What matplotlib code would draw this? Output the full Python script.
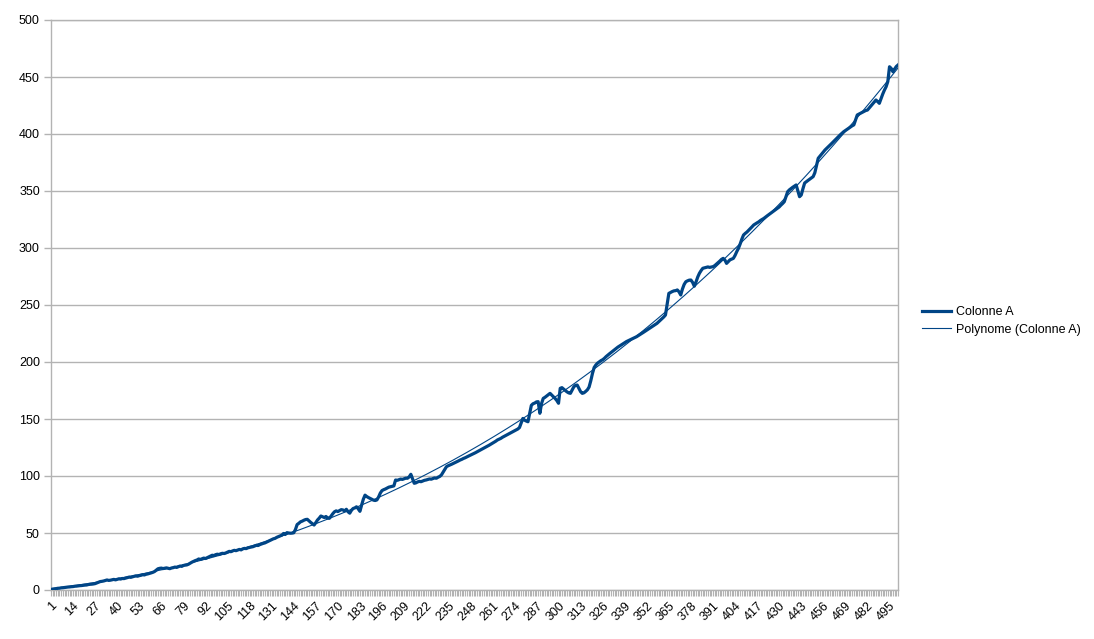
import numpy as np
import matplotlib
matplotlib.use("Agg")
import matplotlib.pyplot as plt
from matplotlib.ticker import FixedLocator, MultipleLocator

plt.rcParams['font.family'] = ['Liberation Sans', 'DejaVu Sans']

# values of "Colonne A" (points 1..500)
colonne_a = [
    0.5, 0.8, 1.0, 1.2, 1.5, 1.6, 1.9, 2.0, 2.2, 2.4,
    2.6, 2.7, 2.9, 3.0, 3.3, 3.4, 3.6, 3.8, 3.9, 4.1,
    4.3, 4.4, 4.8, 5.0, 5.1, 5.3, 5.6, 6.2, 6.8, 7.4,
    7.6, 7.9, 8.3, 8.8, 8.4, 8.6, 9.0, 9.3, 8.9, 9.4,
    9.8, 9.6, 10.1, 10.0, 10.4, 10.9, 11.3, 11.1, 11.6, 12.0,
    12.3, 12.1, 12.6, 12.9, 13.4, 13.2, 13.8, 14.1, 14.5, 15.0,
    15.5, 16.2, 17.4, 18.6, 19.0, 19.2, 18.8, 19.1, 19.4, 19.0,
    18.7, 19.3, 19.6, 20.1, 19.8, 20.4, 21.0, 20.7, 21.5, 21.8,
    22.0, 22.6, 23.5, 24.4, 25.1, 25.8, 26.3, 27.2, 26.8, 27.4,
    28.0, 27.6, 28.3, 29.1, 29.8, 30.5, 30.2, 31.0, 31.4, 31.1,
    31.8, 32.2, 32.0, 32.5, 33.2, 33.9, 33.6, 34.3, 34.8, 34.5,
    35.0, 35.6, 35.2, 36.1, 36.5, 36.3, 37.0, 37.4, 37.7, 38.0,
    38.6, 39.2, 39.0, 39.8, 40.4, 40.9, 41.3, 42.0, 42.8, 43.4,
    44.1, 44.9, 45.3, 46.2, 46.8, 47.5, 48.1, 49.6, 48.7, 50.3,
    50.0, 49.8, 49.9, 50.2, 53.0, 57.4, 58.5, 59.8, 60.4, 61.2,
    61.8, 62.0, 60.6, 59.3, 58.2, 57.0, 59.1, 61.4, 63.0, 64.9,
    64.2, 63.6, 64.5, 63.1, 62.9, 64.8, 66.9, 68.6, 69.4, 68.8,
    69.7, 70.5, 70.2, 69.4, 70.8, 68.6, 67.4, 69.9, 71.5, 72.0,
    73.0, 71.2, 69.0, 74.5, 79.6, 83.2, 82.0, 81.1, 80.4, 79.6,
    78.8, 78.5, 79.0, 81.6, 85.0, 87.2, 88.0, 88.6, 89.4, 90.2,
    90.6, 91.0, 91.3, 96.5, 96.2, 96.8, 97.3, 97.0, 97.6, 98.1,
    98.0, 99.2, 101.5, 97.5, 93.6, 94.0, 94.8, 95.3, 95.0, 95.6,
    96.2, 96.5, 96.9, 97.4, 97.2, 97.8, 98.3, 98.0, 98.9, 99.6,
    100.9, 103.4, 105.8, 108.2, 109.0, 109.6, 110.3, 111.0, 111.8, 112.4,
    113.2, 114.0, 114.6, 115.4, 116.0, 116.8, 117.5, 118.2, 118.9, 119.6,
    120.4, 121.2, 122.0, 122.8, 123.5, 124.4, 125.3, 126.0, 126.9, 127.8,
    128.6, 129.5, 130.5, 131.6, 132.3, 133.0, 134.0, 134.8, 135.6, 136.4,
    137.2, 138.0, 138.8, 139.6, 140.5, 141.2, 142.5, 146.4, 150.5, 149.0,
    148.2, 147.6, 155.0, 162.0, 163.4, 164.0, 165.0, 165.2, 155.0, 163.6,
    168.1, 169.0, 170.2, 171.5, 172.5, 171.0, 169.6, 168.0, 166.2, 163.8,
    176.9, 177.5, 176.2, 175.0, 173.8, 172.9, 172.5, 175.4, 178.2, 179.5,
    179.8, 177.0, 174.0, 172.5, 173.0, 174.2, 175.6, 178.0, 183.5, 190.0,
    195.2, 197.4, 199.0, 200.1, 201.2, 202.0, 203.2, 204.7, 206.0, 207.2,
    208.4, 209.5, 210.8, 212.0, 213.1, 214.0, 215.0, 216.0, 217.0, 217.9,
    218.6, 219.4, 220.0, 220.8, 221.5, 222.2, 223.2, 224.1, 225.0, 226.0,
    227.0, 228.0, 229.0, 230.1, 231.0, 232.0, 233.0, 233.9, 235.3, 236.6,
    238.0, 239.5, 241.2, 250.5, 260.2, 261.0, 261.8, 262.4, 262.6, 263.2,
    261.5, 258.8, 264.0, 268.0, 270.4, 271.2, 271.8, 271.9, 269.8, 266.5,
    270.2, 274.5, 277.8, 280.2, 282.2, 282.6, 283.0, 283.4, 283.0, 283.3,
    283.6, 284.5, 285.8, 287.0, 288.5, 290.0, 290.9, 289.5, 286.5, 288.0,
    289.6, 290.2, 290.9, 293.5, 296.8, 299.7, 303.5, 307.8, 311.4, 312.8,
    314.0, 315.5, 317.0, 318.6, 320.2, 321.2, 322.1, 323.0, 324.2, 325.1,
    326.0, 327.2, 328.3, 329.4, 330.4, 331.5, 332.6, 333.8, 334.8, 336.0,
    337.6, 339.0, 340.6, 345.0, 349.4, 351.0, 352.2, 353.3, 354.3, 355.3,
    350.0, 345.0, 346.5, 352.0, 357.0, 358.2, 359.3, 360.4, 361.5, 362.6,
    366.0, 372.5, 378.7, 380.5, 382.4, 384.2, 386.0, 387.5, 388.9, 390.3,
    391.8, 393.3, 394.8, 396.3, 397.8, 399.3, 400.6, 402.0, 403.0, 404.1,
    405.1, 406.2, 407.2, 408.0, 412.5, 416.7, 417.5, 418.3, 419.2, 420.0,
    420.6, 421.0, 422.8, 424.5, 426.3, 428.0, 429.8, 428.5, 426.9, 431.0,
    435.0, 438.5, 441.5, 446.0, 459.0, 457.5, 454.6, 457.0, 459.2, 460.5,
]
x_labels = list(range(1, 501, 13))   # 1, 14, 27, ... 495
y_ticks = list(range(0, 501, 50))

blue = '#004586'
grey = '#b3b3b3'

x = np.arange(1, len(colonne_a) + 1)
y = np.array(colonne_a)
coef = np.polyfit(x, y, 3)
trend = np.polyval(coef, x)

fig = plt.figure(figsize=(10.94, 6.39), dpi=100)
ax = fig.add_axes([51/1094, 49/639, 847/1094, 570/639])

ax.plot(x, y, color=blue, linewidth=2.3, label='Colonne A', zorder=3)
ax.plot(x, trend, color=blue, linewidth=0.8, label='Polynome (Colonne A)', zorder=4)

ax.set_xlim(1, len(colonne_a))
ax.set_ylim(0, 500)
ax.set_yticks(y_ticks)
ax.yaxis.grid(True, color=grey, linewidth=1)
ax.set_axisbelow(True)
ax.tick_params(axis='y', direction='out', length=5, width=1, color=grey,
               pad=3, labelsize=9)

ax.xaxis.set_major_locator(FixedLocator(x_labels))
ax.xaxis.set_minor_locator(MultipleLocator(1))
ax.set_xticklabels([str(v) for v in x_labels], rotation=45, ha='right',
                   rotation_mode='anchor')
ax.tick_params(axis='x', which='both', direction='out', length=4, width=0.8,
               color=grey, labelsize=9, pad=3)

for s in ax.spines.values():
    s.set_color(grey)
    s.set_linewidth(1)

fig.legend(loc='center left', bbox_to_anchor=(922/1094, 1 - 321/639),
           frameon=False, fontsize=9, handlelength=2.3, handletextpad=0.45,
           labelspacing=0.45, borderpad=0, borderaxespad=0)

plt.savefig('out.png', dpi=100)
